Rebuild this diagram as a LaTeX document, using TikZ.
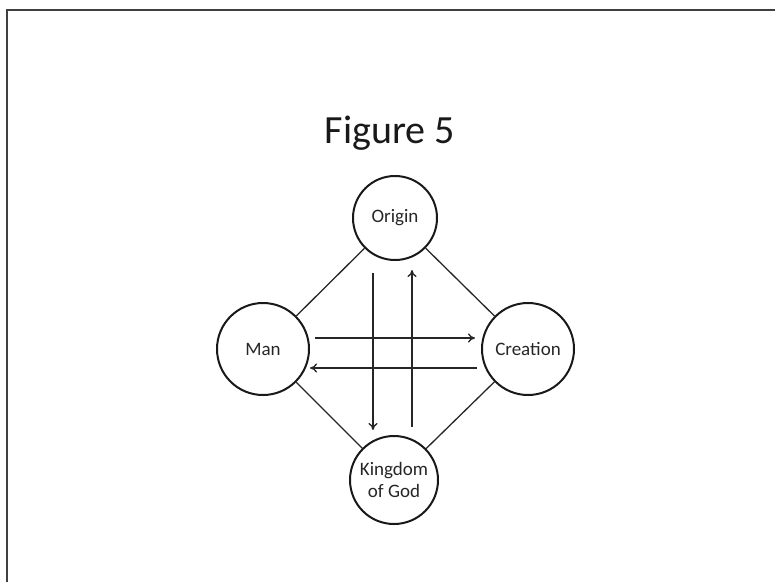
\documentclass[tikz,border=0pt]{standalone}
\usepackage{fontspec}
\setmainfont{Carlito}
\usetikzlibrary{calc,arrows.meta}
\begin{document}
\begin{tikzpicture}[x=1pt,y=-1pt,
  idea/.style={circle, draw=black!90, line width=2pt, minimum size=88pt,
    inner sep=0pt, align=center, font=\fontsize{19}{22}\selectfont, text=black!85},
  link/.style={draw=black!85, line width=1.3pt},
  flow/.style={draw=black!85, line width=1.3pt, -{To[length=7pt,width=9pt]}}]
  \useasboundingbox (0,0) rectangle (775,582);
  % slide frame (top and left edges)
  \draw[black!75, line width=1.8pt] (7,582) -- (7,10) -- (775,10);
  % heading
  \node[anchor=base, font=\fontsize{40}{48}\selectfont, text=black!90] (title) at (390,143) {Figure 5};
  % the four circles
  \node[idea, minimum size=84pt] (origin) at (395,218) {Origin};
  \node[idea, minimum size=92pt] (man) at (263,349) {Man};
  \node[idea, minimum size=92pt] (creation) at (528,349) {Creation};
  \node[idea] (kingdom) at (394,480) {Kingdom\\of God};
  % diamond of plain links
  \draw[link] (origin) -- (man);
  \draw[link] (origin) -- (creation);
  \draw[link] (kingdom) -- (man);
  \draw[link] (kingdom) -- (creation);
  % crossing arrows
  \coordinate (dtop) at ($(origin.center)+(-22,55)$);
  \coordinate (dbot) at ($(kingdom.center)+(-21,-50)$);
  \coordinate (utop) at ($(origin.center)+(17,52)$);
  \coordinate (ubot) at ($(kingdom.center)+(18,-53)$);
  \coordinate (rl) at ($(man.center)+(52,-11)$);
  \coordinate (rr) at ($(creation.center)+(-53,-11)$);
  \coordinate (lr) at ($(creation.center)+(-51,19)$);
  \coordinate (ll) at ($(man.center)+(47,19)$);
  \draw[flow] (dtop) -- (dbot);
  \draw[flow] (ubot) -- (utop);
  \draw[flow] (rl) -- (rr);
  \draw[flow] (lr) -- (ll);
\end{tikzpicture}
\end{document}
